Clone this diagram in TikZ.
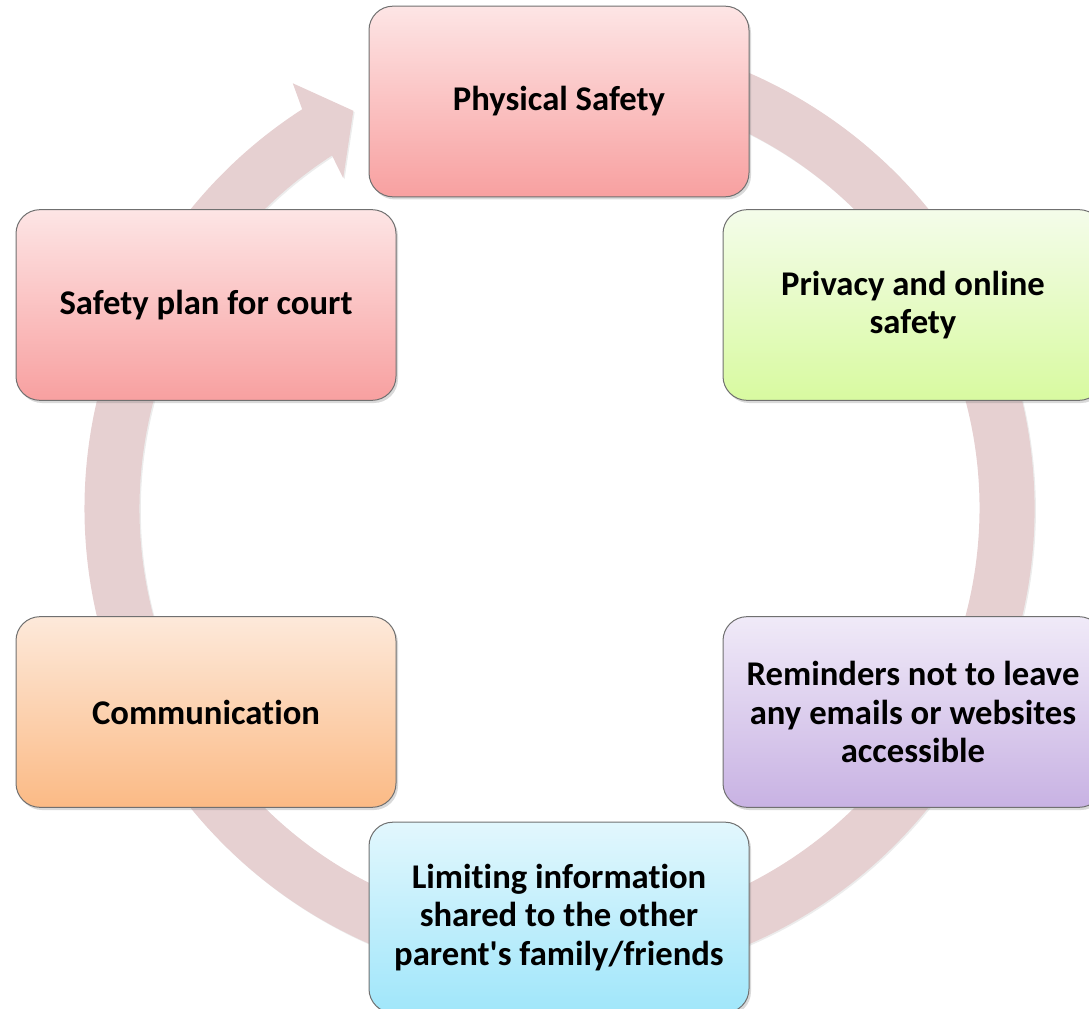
\documentclass[tikz,border=0pt]{standalone}
\usepackage{fontspec}
\setmainfont{Carlito}[Ligatures={NoCommon}]
\usetikzlibrary{shadows}

\begin{document}
\begin{tikzpicture}[x=0.75pt,y=0.75pt,yscale=-1,xscale=1,
    cyclebox/.style={draw={rgb, 255:red, 112; green, 112; blue, 112 }, line width=0.75pt, rounded corners=18pt,
        minimum width=285pt, minimum height=143pt, align=center, inner sep=0.75pt,
        font=\bfseries\fontsize{26}{29}\selectfont,
        drop shadow={shadow xshift=1.5pt, shadow yshift=-2pt, opacity=0.3}}]
        \useasboundingbox (0,0) rectangle (1089,1009);

        %Shape: Circular Arrow [id:ring]
        \coordinate (ctr) at (559.5,508.5);
        \fill [fill={rgb, 255:red, 230; green, 208; blue, 209 }, drop shadow={shadow xshift=1pt, shadow yshift=-1pt, opacity=0.15}]
            ([shift={(-100:475)}]ctr) arc [start angle=-100, end angle=237.2, radius=475]
            -- ([shift={(237.9:502)}]ctr) -- ([shift={(242.6:448)}]ctr) -- ([shift={(236.8:395)}]ctr)
            -- ([shift={(237.2:420)}]ctr) arc [start angle=237.2, end angle=-100, radius=420] -- cycle ;

        % Text Node
        \node [cyclebox, top color={rgb, 255:red, 253; green, 229; blue, 229 }, bottom color={rgb, 255:red, 248; green, 160; blue, 160 }] (phys) at (559,101.5) {Physical Safety};
        % Text Node
        \node [cyclebox, top color={rgb, 255:red, 244; green, 252; blue, 234 }, bottom color={rgb, 255:red, 216; green, 250; blue, 160 }] (priv) at (913,305) {Privacy and online\\safety};
        % Text Node
        \node [cyclebox, top color={rgb, 255:red, 240; green, 234; blue, 248 }, bottom color={rgb, 255:red, 200; green, 178; blue, 227 }] (remind) at (913,712) {Reminders not to leave\\any emails or websites\\accessible};
        % Text Node
        \node [cyclebox, top color={rgb, 255:red, 226; green, 247; blue, 253 }, bottom color={rgb, 255:red, 160; green, 230; blue, 250 }] (limit) at (559,917.5) {Limiting information\\shared to the other\\parent\textquotesingle s family/friends};
        % Text Node
        \node [cyclebox, top color={rgb, 255:red, 253; green, 233; blue, 218 }, bottom color={rgb, 255:red, 251; green, 186; blue, 133 }] (comm) at (206,712) {Communication};
        % Text Node
        \node [cyclebox, top color={rgb, 255:red, 253; green, 229; blue, 229 }, bottom color={rgb, 255:red, 248; green, 160; blue, 160 }] (court) at (206,305) {Safety plan for court};
\end{tikzpicture}
\end{document}
